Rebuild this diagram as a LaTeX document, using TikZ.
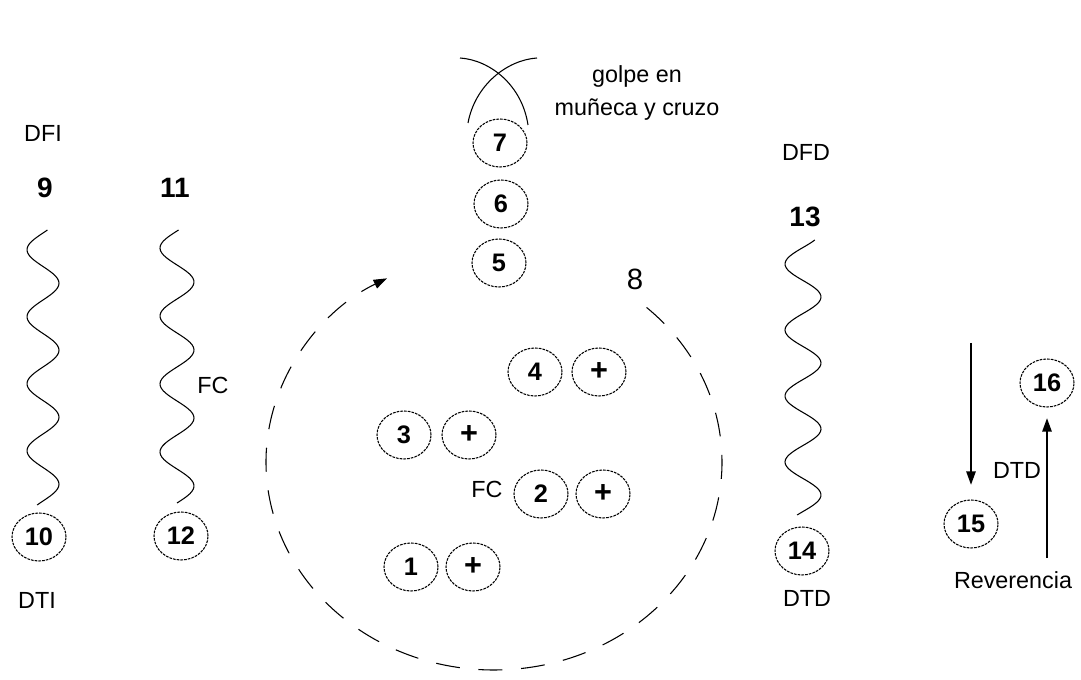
\documentclass[tikz,border=0pt]{standalone}
\usepackage{fontspec}
\setmainfont{Liberation Sans}
\usetikzlibrary{shapes.geometric,arrows.meta}

\begin{document}
\begin{tikzpicture}[x=0.75pt,y=0.75pt,yscale=-1,xscale=1,
    paso/.style={draw, ellipse, dash pattern=on 2pt off 0.8pt, line width=0.8pt,
        minimum width=40.5pt, minimum height=36pt, inner sep=0pt,
        font=\fontsize{19}{19}\selectfont\bfseries},
    mas/.style={paso, font=\fontsize{23}{23}\selectfont\bfseries},
    marca/.style={font=\fontsize{21}{21}\selectfont\bfseries},
    rotulo/.style={font=\fontsize{17.5}{20}\selectfont},
    onda/.style={line width=0.8pt},
    flecha/.style={line width=1.1pt, -{Triangle[length=10pt,width=7pt]}}]
    \path[use as bounding box] (0,0) rectangle (1081,680);

    %Shape: Ellipse (pasos con cruce)
    \node[paso] (n1) at (411,567) {1};
    \node[mas] (p1) at (473,567) {+};
    \node[paso] (n2) at (541,494) {2};
    \node[mas] (p2) at (603,494) {+};
    \node[paso] (n3) at (404,435) {3};
    \node[mas] (p3) at (469,435) {+};
    \node[paso] (n4) at (535,372) {4};
    \node[mas] (p4) at (599,372) {+};

    %Shape: Ellipse (columna central)
    \node[paso] (n5) at (499,263) {5};
    \node[paso] (n6) at (501,204) {6};
    \node[paso] (n7) at (500,143) {7};

    %Shape: Ellipse (extremos)
    \node[paso] (n10) at (39,537) {10};
    \node[paso] (n12) at (181,536) {12};
    \node[paso] (n14) at (802,551) {14};
    \node[paso] (n15) at (971,524) {15};
    \node[paso] (n16) at (1047,383) {16};

    % Text Node
    \node[marca] (m9) at (45,188) {9};
    \node[marca] (m11) at (175,188) {11};
    \node[marca] (m13) at (805,217) {13};
    \node[font=\fontsize{22}{22}\selectfont] (m8) at (635,279) {8};

    % Text Node
    \node[rotulo] (dfi) at (43,133) {DFI};
    \node[rotulo] (dti) at (37,600) {DTI};
    \node[rotulo] (fc1) at (213,385) {FC};
    \node[rotulo] (fc2) at (487,489) {FC};
    \node[rotulo] (dfd) at (806,152) {DFD};
    \node[rotulo] (dtd1) at (807,598) {DTD};
    \node[rotulo] (dtd2) at (1017,470) {DTD};
    \node[rotulo] (rev) at (1013,580) {Reverencia};
    \node[rotulo, align=center, font=\fontsize{17.5}{25}\selectfont] (golpe) at (637,93) {golpe en\\muñeca y cruzo};

    %Curve Lines (ondas)
    \draw[onda] plot[domain=230:505, samples=120, smooth] ({43+16*sin(5.3731*(\x-266.5))}, \x);
    \draw[onda] plot[domain=230:503, samples=120, smooth] ({177+17*sin(5.2941*(\x-265))}, \x);
    \draw[onda] plot[domain=240:515, samples=120, smooth] ({803+18*sin(5.4545*(\x-280.5))}, \x);

    %Curve Lines (cruce sobre 7)
    \draw[onda] (460,58) .. controls (490,60) and (522,85) .. (528,125);
    \draw[onda] (537,58) .. controls (507,60) and (475,85) .. (468,123);

    %Shape: Arc (giro)
    \draw[dash pattern=on 18pt off 14pt, line width=0.8pt, -{Triangle[length=10pt,width=7pt]}]
        (494,462) ++(-48:228 and 208) arc[start angle=-48, end angle=242, x radius=228, y radius=208];

    %Straight Lines [flechas]
    \coordinate (a15) at (971,343);
    \coordinate (a16) at (1047,558);
    \draw[flecha, shorten >=11pt] (a15) -- (n15.north);
    \draw[flecha, shorten >=8pt] (a16) -- (n16.south);

\end{tikzpicture}
\end{document}
